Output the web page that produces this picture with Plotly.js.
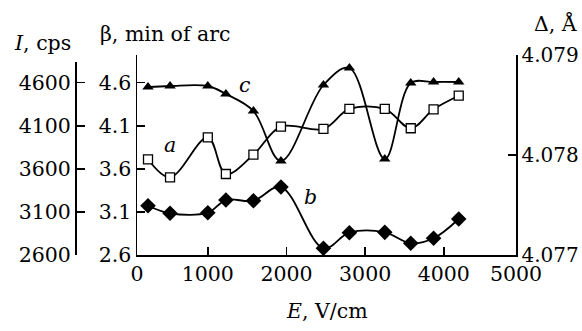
<!DOCTYPE html>
<html>
<head>
<meta charset="utf-8">
<script src="https://cdn.plot.ly/plotly-3.0.1.min.js"></script>
<style>html,body{margin:0;padding:0;background:#fff;}#chart{width:582px;height:331px;}</style>
</head>
<body>
<div id="chart"></div>
<script>
// Electric field E, V/cm (common abscissa)
const E = [240, 520, 1000, 1230, 1580, 1930, 2470, 2800, 3250, 3580, 3870, 4190];
// Curve a: beta, min of arc
const betaA = [3.711, 3.502, 3.966, 3.540, 3.764, 4.089, 4.063, 4.295, 4.295, 4.071, 4.291, 4.449];
// Curve b: I, cps
const intensityB = [3172, 3084, 3091, 3238, 3230, 3389, 2678, 2859, 2863, 2736, 2794, 3018];
// Curve c: Delta, Angstrom
const deltaC = [4.07868, 4.07869, 4.07869, 4.07861, 4.07844, 4.07794, 4.0787, 4.07887, 4.07796, 4.07872, 4.07873, 4.07873];

const xTickVals = [100, 1000, 2000, 3000, 4000, 4918];
const xTickText = ["0", "1000", "2000", "3000", "4000", "5000"];
const betaTicks = [2.6, 3.1, 3.6, 4.1, 4.6];
const iTicks = [2600, 3100, 3600, 4100, 4600];
const deltaTicks = [4.077, 4.078, 4.079];

const FONT = 'DejaVu Serif';
const FS = 20.5;
const lineStyle = {color: 'black', width: 1.8, shape: 'spline', smoothing: 1};

const traces = [
  {x: E, y: betaA, xaxis: 'x', yaxis: 'y', mode: 'lines+markers', line: lineStyle,
   marker: {symbol: 'square', size: 9, color: 'white', line: {color: 'black', width: 1.3}}},
  {x: E, y: intensityB, xaxis: 'x', yaxis: 'y2', mode: 'lines+markers', line: lineStyle,
   marker: {symbol: 'diamond', size: 12, color: 'black'}},
  {x: E, y: deltaC, xaxis: 'x', yaxis: 'y3', mode: 'lines+markers', line: lineStyle,
   marker: {symbol: 'triangle-up', size: 10, color: 'black'}}
];

const axisCommon = {showline: true, linecolor: 'black', linewidth: 1.5, ticks: 'inside', ticklen: 8,
  tickwidth: 1.5, tickcolor: 'black', showgrid: false, zeroline: false,
  tickfont: {family: FONT, size: FS, color: 'black'}};

const layout = {
  width: 582, height: 331,
  margin: {l: 60, r: 66, t: 55, b: 76},
  paper_bgcolor: 'white', plot_bgcolor: 'rgba(0,0,0,0)',
  showlegend: false,
  font: {family: FONT, size: FS, color: 'black'},
  xaxis: Object.assign({}, axisCommon, {domain: [0.16886, 1], range: [100, 4918],
    tickvals: xTickVals, ticktext: xTickText, anchor: 'y'}),
  yaxis: Object.assign({}, axisCommon, {domain: [0, 1], range: [2.6, 4.9215],
    tickvals: betaTicks, tickformat: '.1f', anchor: 'x'}),
  yaxis2: Object.assign({}, axisCommon, {domain: [0, 0.965], range: [2600, 4840],
    tickvals: iTicks, anchor: 'free', position: 0.0329, side: 'left'}),
  yaxis3: Object.assign({}, axisCommon, {overlaying: 'y', anchor: 'x', side: 'right',
    range: [4.077, 4.079], tickvals: deltaTicks, tickformat: '.3f',
    tickfont: {family: FONT, size: 20, color: 'black'}}),
  annotations: [
    {text: '<i>I</i>, cps', xref: 'paper', yref: 'paper', x: -0.105, y: 1.06, xanchor: 'left', yanchor: 'middle', showarrow: false},
    {text: 'β, min of arc', xref: 'paper', yref: 'paper', x: 0.0833, y: 1.105, xanchor: 'left', yanchor: 'middle', showarrow: false},
    {text: 'Δ, Å', xref: 'paper', yref: 'paper', x: 1.035, y: 1.16, xanchor: 'left', yanchor: 'middle', showarrow: false},
    {text: '<i>E</i>, V/cm', xref: 'paper', yref: 'paper', x: 0.5855, y: -0.28, xanchor: 'center', yanchor: 'middle', showarrow: false},
    {text: '<i>a</i>', xref: 'x', yref: 'y', x: 520, y: 3.877, showarrow: false},
    {text: '<i>c</i>', xref: 'x', yref: 'y', x: 1477, y: 4.573, showarrow: false},
    {text: '<i>b</i>', xref: 'x', yref: 'y', x: 2303, y: 3.277, showarrow: false}
  ]
};

Plotly.newPlot('chart', traces, layout, {staticPlot: true, displayModeBar: false});
</script>
</body>
</html>
